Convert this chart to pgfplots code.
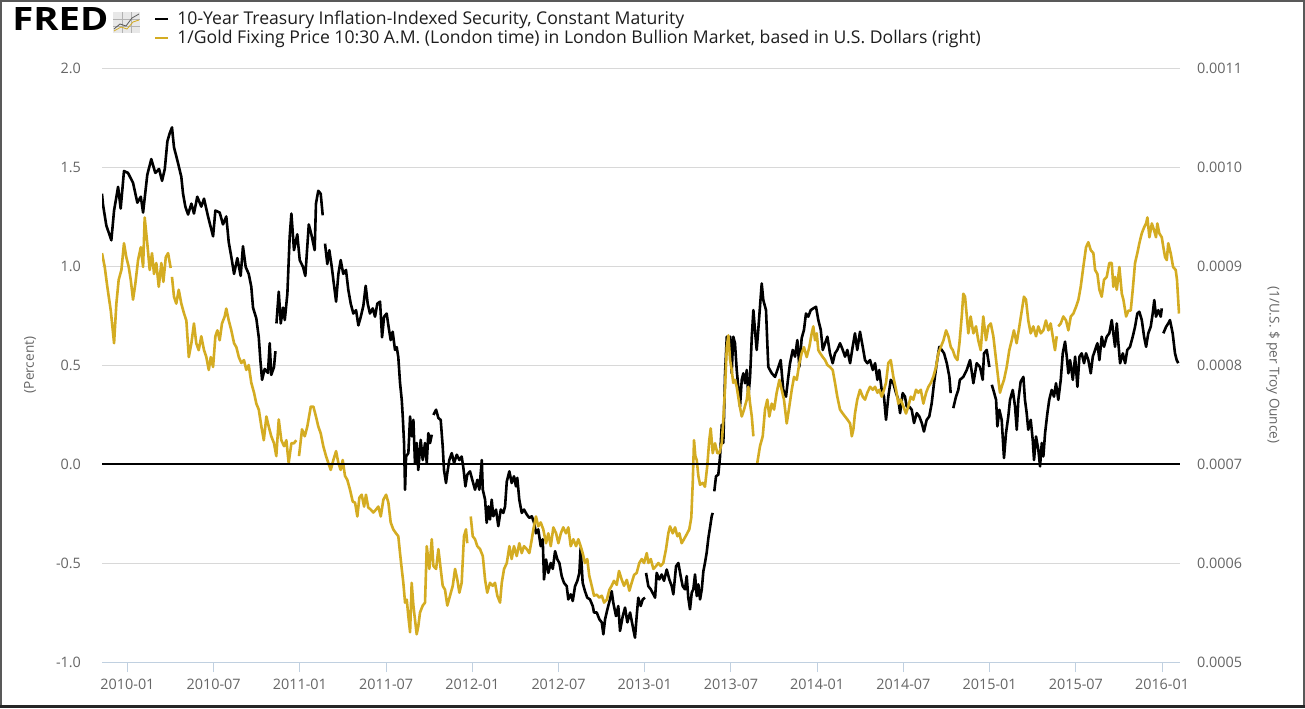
\documentclass[border=0pt]{standalone}
\usepackage{fontspec}
\setmainfont{Open Sans}
\usepackage{graphicx}
\usepackage{pgfplots}
\pgfplotsset{compat=1.18}
\definecolor{fredgold}{RGB}{212,172,34}
\definecolor{gridgray}{RGB}{216,216,216}
\definecolor{ticklab}{RGB}{102,102,102}
\definecolor{axisblue}{RGB}{192,208,224}
\definecolor{legtxt}{RGB}{30,30,30}
\begin{document}
\begin{tikzpicture}
\useasboundingbox (0,0) rectangle (652.5pt,354pt);
\fill[white] (0,0) rectangle (652.5pt,354pt);
\begin{axis}[
  at={(51pt,23pt)}, anchor=south west,
  width=539pt, height=297pt, scale only axis,
  xmin=-1.77, xmax=73.25, ymin=-1, ymax=2,
  axis x line*=bottom, axis y line*=left,
  x axis line style={draw=axisblue, line width=0.5pt, -},
  y axis line style={draw=none},
  xtick={0,6,...,72},
  xticklabels={2010-01,2010-07,2011-01,2011-07,2012-01,2012-07,2013-01,2013-07,2014-01,2014-07,2015-01,2015-07,2016-01},
  xtick align=outside,
  x tick style={draw=axisblue, line width=0.5pt},
  major tick length=5pt,
  ytick={-1,-0.5,0,0.5,1,1.5,2},
  yticklabels={-1.0,-0.5,0.0,0.5,1.0,1.5,2.0},
  y tick style={draw=none},
  ymajorgrids, grid style={gridgray, line width=0.5pt},
  tick label style={font=\fontsize{7.2pt}{8pt}\selectfont, text=ticklab},
  yticklabel style={xshift=-7pt},
  ylabel={(Percent)},
  every axis y label/.style={at={(axis description cs:-0.0668,0.5)}, rotate=90, anchor=center, font=\fontsize{6.8pt}{8pt}\selectfont, text=ticklab},
  unbounded coords=jump,
]
\addplot[black, line width=1.3pt, line join=round] coordinates {
(-1.77,1.365) (-1.70,1.31) (-1.47,1.205) (-1.12,1.13) (-0.93,1.28) (-0.65,1.40) (-0.47,1.29) (-0.24,1.48) (0.04,1.47) (0.39,1.42) (0.69,1.32) (0.93,1.35) (1.09,1.27) (1.38,1.46) (1.66,1.54) (1.94,1.47) (2.20,1.49) (2.41,1.43) (2.60,1.49) (2.78,1.63) (2.94,1.67) (3.10,1.70) (3.24,1.60) (3.52,1.52) (3.75,1.45) (3.87,1.365) (4.03,1.30) (4.22,1.26) (4.45,1.315) (4.63,1.265) (4.86,1.35) (5.14,1.30) (5.33,1.34) (5.61,1.25) (5.96,1.15) (6.12,1.28) (6.42,1.27) (6.65,1.21) (6.88,1.25) (7.05,1.12) (7.23,1.046) (7.42,0.96) (7.65,1.04) (7.88,0.95) (8.04,1.10) (8.23,0.995) (8.44,0.96) (8.62,0.895) (8.74,0.79) (8.97,0.735) (9.14,0.64) (9.25,0.525) (9.37,0.425) (9.55,0.48) (9.78,0.46) (9.90,0.61) (10.01,0.45) (10.20,0.49) (10.30,0.57) (10.33,nan)
(10.37,0.71) (10.53,0.87) (10.67,0.71) (10.83,0.79) (10.95,0.727) (11.13,0.86) (11.29,1.147) (11.41,1.265) (11.59,1.08) (11.82,1.16) (11.99,1.03) (12.22,0.995) (12.38,0.95) (12.62,1.21) (12.80,1.16) (13.03,1.08) (13.12,1.315) (13.28,1.38) (13.45,1.365) (13.59,1.256) (13.67,nan)
(13.75,1.113) (13.91,1.01) (14.05,1.08) (14.22,0.995) (14.33,0.93) (14.52,0.82) (14.68,0.96) (14.84,1.03) (15.02,0.96) (15.21,0.98) (15.37,0.88) (15.54,0.81) (15.72,0.76) (15.91,0.777) (16.07,0.70) (16.24,0.744) (16.42,0.80) (16.58,0.90) (16.72,0.81) (16.88,0.76) (17.07,0.786) (17.23,0.744) (17.39,0.81) (17.58,0.82) (17.72,0.64) (17.86,0.744) (18.04,0.76) (18.18,0.69) (18.32,0.626) (18.46,0.668) (18.62,0.576) (18.74,0.59) (18.85,0.54) (18.97,0.41) (19.09,0.324) (19.16,0.24) (19.25,0.106) (19.32,-0.13) (19.39,0.038) (19.55,0.055) (19.67,0.24) (19.78,0.14) (19.90,0.223) (20.01,0.005) (20.13,0.106) (20.24,-0.03) (20.41,0.122) (20.55,0.02) (20.71,0.106) (20.83,0.005) (20.94,0.156) (21.06,0.106) (21.18,0.148) (21.23,nan)
(21.29,0.248) (21.48,0.274) (21.64,0.232) (21.80,0.223) (21.94,0.089) (22.03,-0.03) (22.17,-0.096) (22.26,-0.045) (22.40,0.02) (22.57,0.055) (22.73,0.005) (22.92,0.047) (23.10,0.02) (23.26,0.038) (23.38,-0.02) (23.52,-0.113) (23.65,-0.054) (23.84,-0.037) (24.03,-0.088) (24.19,-0.13) (24.35,-0.08) (24.49,-0.13) (24.66,0.02) (24.73,-0.13) (24.89,-0.18) (25.00,-0.297) (25.12,-0.214) (25.23,-0.28) (25.35,-0.18) (25.46,-0.264) (25.65,-0.23) (25.81,-0.314) (25.98,-0.23) (26.16,-0.247) (26.28,-0.214) (26.40,-0.088) (26.58,-0.037) (26.74,-0.096) (26.90,-0.062) (27.04,-0.113) (27.13,-0.07) (27.27,-0.18) (27.44,-0.247) (27.60,-0.23) (27.79,-0.255) (27.97,-0.272) (28.14,-0.264) (28.30,-0.297) (28.43,-0.35) (28.59,-0.33) (28.76,-0.415) (28.90,-0.38) (28.99,-0.583) (29.13,-0.482) (29.29,-0.55) (29.46,-0.50) (29.60,-0.53) (29.76,-0.44) (29.92,-0.482) (30.06,-0.50) (30.22,-0.566) (30.38,-0.60) (30.57,-0.617) (30.68,-0.684) (30.85,-0.658) (30.99,-0.692) (31.15,-0.617) (31.31,-0.59) (31.45,-0.55) (31.54,-0.423) (31.68,-0.60) (31.84,-0.642) (32.00,-0.675) (32.19,-0.684) (32.38,-0.717) (32.47,-0.75) (32.66,-0.75) (32.84,-0.784) (33.01,-0.80) (33.12,-0.86) (33.24,-0.784) (33.40,-0.734) (33.58,-0.684) (33.70,-0.642) (33.81,-0.70) (34.00,-0.768) (34.16,-0.717) (34.28,-0.843) (34.47,-0.768) (34.63,-0.725) (34.79,-0.80) (34.98,-0.75) (35.16,-0.818) (35.32,-0.877) (35.44,-0.768) (35.55,-0.675) (35.72,-0.717) (35.86,-0.684) (36.02,-0.675) (36.05,nan)
(36.09,-0.55) (36.25,-0.617) (36.42,-0.633) (36.60,-0.658) (36.72,-0.675) (36.83,-0.55) (37.01,-0.583) (37.18,-0.558) (37.34,-0.59) (37.53,-0.533) (37.71,-0.583) (37.88,-0.617) (37.99,-0.658) (38.18,-0.516) (38.34,-0.50) (38.50,-0.566) (38.64,-0.617) (38.80,-0.633) (38.92,-0.566) (39.03,-0.675) (39.15,-0.734) (39.27,-0.65) (39.38,-0.633) (39.50,-0.558) (39.62,-0.667) (39.73,-0.608) (39.85,-0.684) (39.97,-0.633) (40.08,-0.541) (40.19,-0.50) (40.31,-0.448) (40.43,-0.373) (40.54,-0.322) (40.66,-0.264) (40.73,-0.247) (40.78,nan)
(40.84,-0.138) (40.96,-0.062) (41.12,-0.054) (41.24,0.038) (41.36,0.198) (41.47,0.106) (41.59,0.458) (41.71,0.643) (41.82,0.592) (41.94,0.643) (42.05,0.458) (42.16,0.643) (42.28,0.61) (42.40,0.475) (42.51,0.39) (42.63,0.29) (42.75,0.425) (42.86,0.458) (42.98,0.408) (43.10,0.475) (43.21,0.34) (43.33,0.44) (43.45,0.643) (43.56,0.777) (43.67,0.677) (43.79,0.576) (43.90,0.677) (44.14,0.912) (44.25,0.828) (44.44,0.777) (44.53,0.61) (44.60,0.49) (44.84,0.458) (45.07,0.44) (45.30,0.49) (45.46,0.525) (45.64,0.374) (45.83,0.34) (45.99,0.44) (46.11,0.509) (46.30,0.576) (46.46,0.542) (46.62,0.626) (46.76,0.49) (46.92,0.635) (47.08,0.677) (47.22,0.76) (47.38,0.744) (47.55,0.777) (47.73,0.786) (47.92,0.794) (48.08,0.727) (48.25,0.677) (48.39,0.576) (48.55,0.61) (48.71,0.643) (48.89,0.559) (49.08,0.509) (49.24,0.559) (49.40,0.576) (49.59,0.61) (49.78,0.576) (49.94,0.542) (50.10,0.576) (50.29,0.509) (50.47,0.592) (50.63,0.66) (50.79,0.576) (50.98,0.668) (51.17,0.592) (51.33,0.525) (51.49,0.509) (51.68,0.525) (51.87,0.475) (52.03,0.509) (52.19,0.425) (52.32,0.475) (52.49,0.374) (52.65,0.34) (52.79,0.223) (52.95,0.34) (53.12,0.425) (53.30,0.408) (53.49,0.358) (53.65,0.324) (53.77,0.257) (53.95,0.358) (54.11,0.34) (54.23,0.29) (54.41,0.29) (54.58,0.274) (54.74,0.207) (54.93,0.257) (55.11,0.24) (55.28,0.207) (55.43,0.164) (55.62,0.223) (55.80,0.24) (55.97,0.307) (56.13,0.408) (56.32,0.509) (56.50,0.592) (56.67,0.576) (56.83,0.559) (57.02,0.509) (57.20,0.44) (57.29,0.358) (57.38,nan)
(57.47,0.282) (57.66,0.34) (57.82,0.374) (57.93,0.425) (58.17,0.44) (58.41,0.475) (58.64,0.525) (58.87,0.408) (59.10,0.509) (59.33,0.49) (59.52,0.425) (59.61,0.559) (59.80,0.576) (59.98,0.49) (60.06,nan)
(60.15,0.40) (60.26,0.374) (60.45,0.324) (60.54,0.19) (60.68,0.274) (60.84,0.223) (61.00,0.03) (61.14,0.156) (61.30,0.24) (61.42,0.324) (61.61,0.374) (61.77,0.29) (61.89,0.173) (62.00,0.324) (62.16,0.416) (62.35,0.44) (62.46,0.324) (62.58,0.257) (62.69,0.173) (62.86,0.223) (63.00,0.122) (63.09,0.02) (63.23,0.139) (63.39,0.072) (63.51,-0.012) (63.63,0.106) (63.74,0.038) (63.86,0.156) (64.02,0.257) (64.15,0.324) (64.32,0.374) (64.48,0.34) (64.62,0.408) (64.78,0.324) (64.95,0.425) (65.09,0.559) (65.25,0.618) (65.37,0.542) (65.48,0.458) (65.60,0.525) (65.79,0.425) (65.95,0.542) (66.11,0.39) (66.25,0.542) (66.41,0.559) (66.57,0.509) (66.71,0.559) (66.87,0.525) (67.04,0.458) (67.18,0.542) (67.34,0.576) (67.50,0.61) (67.64,0.525) (67.80,0.643) (67.96,0.592) (68.15,0.643) (68.33,0.66) (68.50,0.727) (68.61,0.66) (68.73,0.592) (68.85,0.71) (68.96,0.61) (69.08,0.509) (69.27,0.559) (69.43,0.509) (69.58,0.576) (69.77,0.592) (69.96,0.643) (70.12,0.693) (70.28,0.76) (70.42,0.769) (70.59,0.727) (70.75,0.643) (70.89,0.592) (71.04,0.66) (71.21,0.693) (71.35,0.76) (71.46,0.828) (71.58,0.744) (71.74,0.777) (71.91,0.744) (71.98,0.786) (72.03,nan)
(72.09,0.66) (72.28,0.693) (72.43,0.71) (72.55,0.727) (72.74,0.66) (72.90,0.559) (73.02,0.525) (73.13,0.509)
};
\end{axis}
\begin{axis}[
  at={(51pt,23pt)}, anchor=south west,
  width=539pt, height=297pt, scale only axis,
  xmin=-1.77, xmax=73.25, ymin=0.0005, ymax=0.0011,
  axis x line=none, xtick=\empty,
  axis y line*=right,
  y axis line style={draw=none},
  scaled y ticks=false,
  ytick={0.0005,0.0006,0.0007,0.0008,0.0009,0.001,0.0011},
  yticklabels={0.0005,0.0006,0.0007,0.0008,0.0009,0.0010,0.0011},
  y tick style={draw=none},
  tick label style={font=\fontsize{7.2pt}{8pt}\selectfont, text=ticklab},
  yticklabel style={xshift=5pt},
  ylabel={(1/U.S. \$ per Troy Ounce)},
  every axis y label/.style={at={(axis description cs:1.0863,0.5)}, rotate=-90, anchor=center, font=\fontsize{6.8pt}{8pt}\selectfont, text=ticklab},
  unbounded coords=jump,
]
\addplot[fredgold, line width=1.3pt, line join=round] coordinates {
(-1.77,0.000913) (-1.58,0.000899) (-1.40,0.000879) (-1.16,0.000855) (-0.93,0.000822) (-0.77,0.000862) (-0.61,0.000886) (-0.42,0.000896) (-0.24,0.000923) (-0.08,0.000909) (0.09,0.000899) (0.23,0.000886) (0.39,0.000866) (0.55,0.000882) (0.74,0.000906) (0.93,0.000919) (1.09,0.000899) (1.20,0.000949) (1.38,0.000923) (1.55,0.000896) (1.71,0.000913) (1.85,0.000892) (2.01,0.000903) (2.18,0.000879) (2.36,0.000903) (2.50,0.000884) (2.67,0.000909) (2.83,0.000913) (3.01,0.000898) (3.05,nan)
(3.10,0.000889) (3.24,0.000869) (3.40,0.000862) (3.57,0.000876) (3.75,0.000862) (3.94,0.000852) (4.10,0.000845) (4.27,0.000808) (4.45,0.000822) (4.63,0.000842) (4.79,0.000822) (4.96,0.000815) (5.14,0.000829) (5.33,0.000815) (5.49,0.000808) (5.66,0.000795) (5.80,0.000808) (5.96,0.000798) (6.12,0.000829) (6.26,0.000835) (6.42,0.000825) (6.58,0.000842) (6.77,0.000849) (6.88,0.000857) (7.05,0.000845) (7.23,0.000835) (7.42,0.000822) (7.58,0.000818) (7.75,0.000808) (7.93,0.000802) (8.11,0.000805) (8.27,0.000795) (8.44,0.0008) (8.62,0.000782) (8.81,0.000772) (8.97,0.000761) (9.14,0.000755) (9.32,0.000738) (9.49,0.000724) (9.67,0.000748) (9.83,0.000738) (10.01,0.000728) (10.20,0.000721) (10.36,0.000708) (10.53,0.000745) (10.71,0.000724) (10.90,0.000718) (11.06,0.000724) (11.22,0.000701) (11.41,0.000721) (11.59,0.000721) (11.75,0.000724) (11.85,nan)
(11.94,0.000708) (12.15,0.000735) (12.34,0.000728) (12.52,0.000738) (12.76,0.000758) (12.94,0.000758) (13.12,0.000748) (13.28,0.000738) (13.45,0.000731) (13.63,0.000718) (13.82,0.000708) (13.98,0.000701) (14.15,0.000694) (14.33,0.000704) (14.52,0.000713) (14.68,0.000701) (14.84,0.000694) (14.98,0.000704) (15.14,0.000688) (15.30,0.000684) (15.49,0.000674) (15.68,0.000662) (15.84,0.000661) (16.00,0.000647) (16.14,0.000666) (16.30,0.000669) (16.47,0.000657) (16.60,0.000669) (16.76,0.000656) (16.93,0.000654) (17.11,0.000651) (17.30,0.000654) (17.46,0.000657) (17.63,0.000647) (17.81,0.000664) (18.00,0.000669) (18.16,0.000661) (18.32,0.000641) (18.50,0.000634) (18.69,0.00063) (18.85,0.000627) (18.97,0.00061) (19.09,0.000594) (19.20,0.00058) (19.32,0.00056) (19.44,0.000563) (19.55,0.000546) (19.67,0.00053) (19.78,0.00058) (19.90,0.000557) (20.01,0.000543) (20.13,0.000528) (20.24,0.000536) (20.36,0.00055) (20.55,0.000557) (20.71,0.00056) (20.83,0.000617) (21.01,0.000594) (21.18,0.000624) (21.29,0.000597) (21.48,0.000594) (21.64,0.000614) (21.80,0.000594) (21.94,0.000577) (22.10,0.000573) (22.26,0.000557) (22.45,0.000567) (22.64,0.000577) (22.80,0.000594) (22.96,0.000583) (23.10,0.00057) (23.26,0.00058) (23.42,0.000627) (23.56,0.000634) (23.65,0.00062) (23.77,nan)
(23.89,0.000647) (24.03,0.000627) (24.19,0.000624) (24.35,0.000617) (24.54,0.000614) (24.73,0.000607) (24.89,0.000583) (25.04,0.00057) (25.23,0.00058) (25.42,0.000577) (25.58,0.00058) (25.74,0.000567) (25.93,0.00056) (26.05,0.00058) (26.21,0.000594) (26.40,0.0006) (26.58,0.000617) (26.74,0.000604) (26.90,0.000617) (27.09,0.000607) (27.27,0.00062) (27.44,0.00061) (27.60,0.000617) (27.79,0.000614) (27.97,0.00061) (28.14,0.000624) (28.25,0.000634) (28.43,0.000647) (28.59,0.000637) (28.76,0.000641) (28.94,0.000634) (29.13,0.00062) (29.29,0.00063) (29.46,0.000617) (29.64,0.000636) (29.83,0.00063) (29.99,0.00062) (30.16,0.00063) (30.33,0.000636) (30.52,0.00063) (30.68,0.000636) (30.85,0.000617) (31.03,0.000624) (31.22,0.000617) (31.38,0.000624) (31.54,0.000617) (31.68,0.00061) (31.84,0.0006) (32.00,0.000604) (32.14,0.000587) (32.31,0.000577) (32.47,0.000567) (32.66,0.000568) (32.84,0.000565) (33.01,0.000567) (33.17,0.00056) (33.36,0.000563) (33.54,0.000573) (33.70,0.000577) (33.86,0.000582) (34.05,0.000578) (34.21,0.000592) (34.40,0.000583) (34.56,0.000577) (34.75,0.000583) (34.93,0.000572) (35.09,0.00058) (35.26,0.000588) (35.44,0.00059) (35.62,0.0006) (35.79,0.000604) (35.95,0.0006) (36.14,0.00061) (36.25,0.0006) (36.42,0.000604) (36.60,0.000594) (36.79,0.000597) (36.95,0.0006) (37.11,0.000597) (37.29,0.0006) (37.48,0.000614) (37.64,0.00063) (37.76,0.000637) (37.95,0.00063) (38.11,0.000636) (38.27,0.000627) (38.41,0.00063) (38.57,0.00062) (38.73,0.000624) (38.92,0.000629) (39.10,0.000634) (39.24,0.000646) (39.34,0.000681) (39.43,0.000724) (39.52,0.000708) (39.62,0.000704) (39.73,0.000688) (39.85,0.000679) (40.03,0.000681) (40.19,0.000677) (40.35,0.000698) (40.49,0.000724) (40.59,0.000736) (40.73,0.000711) (40.89,0.000721) (41.05,0.000711) (41.19,0.000711) (41.36,0.000721) (41.47,0.000745) (41.59,0.000778) (41.71,0.000818) (41.82,0.00083) (41.94,0.000805) (42.05,0.000795) (42.16,0.000782) (42.28,0.000785) (42.40,0.000778) (42.58,0.000761) (42.75,0.000748) (42.91,0.000755) (43.10,0.000765) (43.21,0.000778) (43.33,0.000761) (43.45,0.000748) (43.56,0.000728) (43.70,nan)
(43.82,0.0007) (44.02,0.000718) (44.21,0.000728) (44.37,0.000755) (44.53,0.000765) (44.67,0.000748) (44.84,0.000761) (45.00,0.000755) (45.18,0.000772) (45.37,0.000785) (45.53,0.000775) (45.69,0.000765) (45.88,0.000741) (46.06,0.000758) (46.23,0.000775) (46.39,0.000788) (46.58,0.000785) (46.76,0.000802) (46.92,0.000812) (47.08,0.000818) (47.27,0.000808) (47.45,0.000818) (47.62,0.000832) (47.73,0.000839) (47.85,0.000825) (47.97,0.000832) (48.08,0.000815) (48.20,0.000812) (48.39,0.000808) (48.55,0.000805) (48.71,0.0008) (48.89,0.000798) (49.08,0.000795) (49.24,0.000782) (49.40,0.000768) (49.59,0.000755) (49.78,0.000751) (49.94,0.000748) (50.10,0.000745) (50.29,0.000741) (50.41,0.000728) (50.52,0.000735) (50.63,0.000751) (50.79,0.000765) (50.98,0.000775) (51.17,0.000768) (51.33,0.000765) (51.49,0.000772) (51.68,0.000778) (51.87,0.000775) (52.03,0.000778) (52.19,0.000772) (52.32,0.000775) (52.49,0.000768) (52.65,0.000775) (52.79,0.000782) (52.95,0.000802) (53.12,0.000805) (53.30,0.000788) (53.49,0.000775) (53.65,0.000761) (53.82,0.000765) (54.00,0.000758) (54.18,0.000751) (54.34,0.000758) (54.51,0.000768) (54.69,0.000765) (54.88,0.000775) (55.04,0.000772) (55.21,0.000775) (55.39,0.000761) (55.58,0.000772) (55.74,0.000778) (55.91,0.000782) (56.08,0.000788) (56.27,0.000798) (56.43,0.000812) (56.60,0.000818) (56.79,0.000825) (56.97,0.000835) (57.13,0.000829) (57.30,0.000818) (57.44,0.000815) (57.60,0.000808) (57.76,0.000805) (57.90,0.000822) (58.06,0.000849) (58.17,0.000872) (58.29,0.000869) (58.52,0.000832) (58.68,0.000849) (58.87,0.000832) (59.05,0.000839) (59.21,0.000825) (59.38,0.000815) (59.56,0.000849) (59.75,0.000825) (59.91,0.000839) (60.08,0.000842) (60.26,0.000829) (60.45,0.000805) (60.61,0.000785) (60.72,0.000772) (60.84,0.000778) (61.00,0.000785) (61.19,0.000798) (61.37,0.000815) (61.54,0.000825) (61.69,0.000835) (61.88,0.000822) (62.07,0.000839) (62.24,0.000855) (62.39,0.000869) (62.53,0.000866) (62.69,0.000845) (62.86,0.000832) (63.04,0.000839) (63.23,0.000829) (63.39,0.000839) (63.56,0.000832) (63.74,0.000835) (63.92,0.000845) (64.09,0.000835) (64.25,0.000842) (64.39,0.000829) (64.55,0.000815) (64.67,0.000829) (64.72,nan)
(64.78,0.000839) (64.95,0.000842) (65.13,0.000849) (65.32,0.000845) (65.48,0.000835) (65.65,0.000849) (65.83,0.000852) (66.02,0.000859) (66.18,0.000866) (66.34,0.000879) (66.52,0.000899) (66.71,0.000919) (66.87,0.000924) (67.04,0.000916) (67.22,0.000913) (67.34,0.000896) (67.50,0.000892) (67.64,0.000876) (67.80,0.000869) (67.96,0.000886) (68.15,0.000889) (68.33,0.000903) (68.50,0.000903) (68.61,0.000879) (68.73,0.000889) (68.85,0.000876) (69.03,0.000899) (69.20,0.000872) (69.31,0.000866) (69.50,0.000849) (69.66,0.000855) (69.82,0.000855) (69.96,0.000876) (70.12,0.000903) (70.28,0.000913) (70.42,0.000923) (70.59,0.000933) (70.75,0.000939) (70.89,0.000943) (70.98,0.000949) (71.12,0.000929) (71.29,0.000943) (71.45,0.000936) (71.58,0.000929) (71.67,0.000943) (71.81,0.000933) (71.98,0.000929) (72.09,0.000919) (72.21,0.000909) (72.33,0.000906) (72.43,0.000923) (72.60,0.000913) (72.77,0.000899) (72.95,0.000896) (73.04,0.000886) (73.18,0.000852)
};
\addplot[black, line width=1.2pt, forget plot] coordinates {(-1.77,0.0007) (73.25,0.0007)};
\end{axis}
% header
\node[anchor=south west, inner sep=0] at (6pt,338.5pt) {\resizebox{48pt}{11.5pt}{\bfseries FRED}};
\fill[gray!18] (56.5pt,337.5pt) rectangle (70pt,348pt);
\draw[gray!60, line width=0.2pt] (56.5pt,341pt) -- (70pt,341pt) (56.5pt,344.5pt) -- (70pt,344.5pt) (61pt,337.5pt) -- (61pt,348pt) (65.5pt,337.5pt) -- (65.5pt,348pt);
\draw[gray!70!black, line width=0.4pt] (57pt,339.5pt) -- (60pt,342pt) -- (63pt,341pt) -- (66pt,345pt) -- (69.5pt,347pt);
\draw[fredgold, line width=0.4pt] (57pt,338.5pt) -- (60.5pt,340.5pt) -- (63.5pt,339.5pt) -- (66.5pt,343pt) -- (69.5pt,344pt);
\draw[black, line width=1pt] (77.5pt,344.25pt) -- (84pt,344.25pt);
\node[anchor=west, inner sep=0, font=\fontsize{8.8pt}{10pt}\selectfont, text=legtxt] at (88.5pt,344.25pt) {10-Year Treasury Inflation-Indexed Security, Constant Maturity};
\draw[fredgold, line width=1pt] (77.5pt,334.75pt) -- (84pt,334.75pt);
\node[anchor=west, inner sep=0, font=\fontsize{8.8pt}{10pt}\selectfont, text=legtxt] at (88.5pt,334.75pt) {1/Gold Fixing Price 10:30 A.M. (London time) in London Bullion Market, based in U.S. Dollars (right)};
% frame
\draw[gray!70!black, line width=1pt] (0.5pt,0.5pt) rectangle (652pt,353.5pt);
\draw[black!85, line width=1.5pt] (0,0.75pt) -- (652.5pt,0.75pt);
\end{tikzpicture}
\end{document}
